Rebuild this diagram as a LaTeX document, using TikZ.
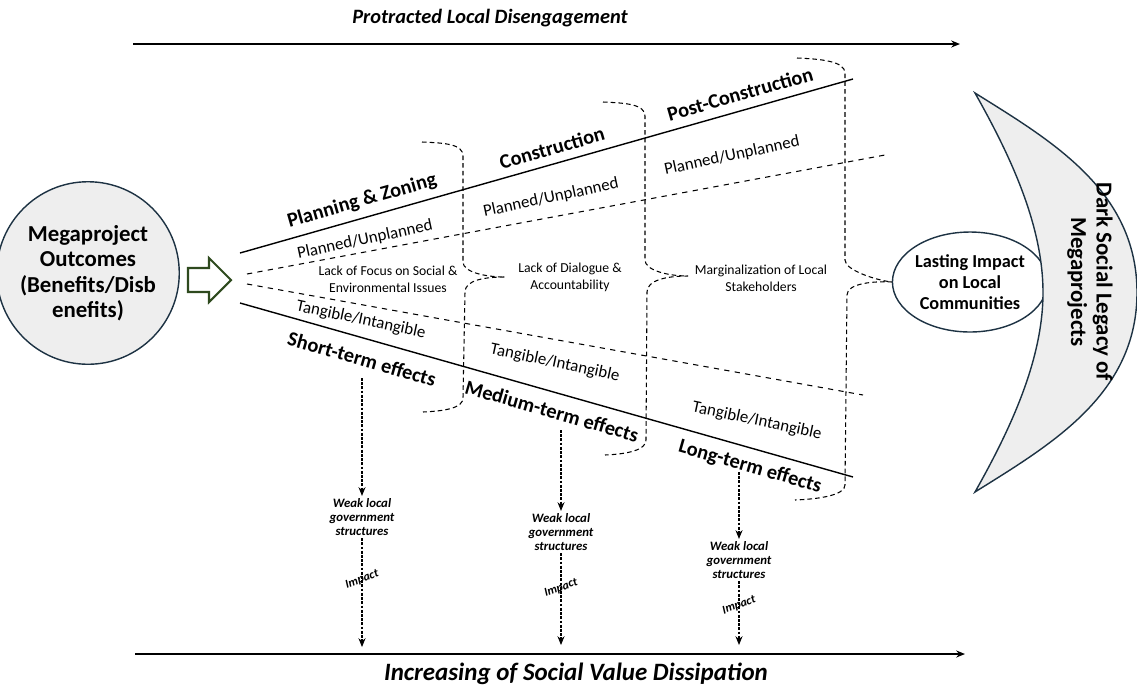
\documentclass[tikz,border=0pt]{standalone}
\usepackage{fontspec}
\setmainfont{Carlito}
\usetikzlibrary{arrows.meta,shapes.geometric}
\definecolor{outline}{HTML}{1D3243}
\definecolor{arrowgreen}{HTML}{2E4A1E}
\definecolor{shade}{HTML}{EEEEEE}

\begin{document}
\begin{tikzpicture}[x=0.02cm, y=-0.02cm,
    phase/.style={font=\bfseries\fontsize{11.6}{14}\selectfont, inner sep=0pt},
    kind/.style={font=\fontsize{9.6}{12}\selectfont, inner sep=0pt},
    issue/.style={font=\fontsize{7.8}{9.6}\selectfont, align=center, inner sep=0pt},
    weak/.style={font=\bfseries\itshape\fontsize{7.3}{8.2}\selectfont, align=center, inner sep=1pt},
    impact/.style={font=\bfseries\itshape\fontsize{6.8}{7}\selectfont, rotate=20, inner sep=0pt},
    dotarrow/.style={-{Stealth[length=5pt,width=4pt]}, dash pattern=on 1.6pt off 0.8pt, line width=0.6pt},
    brace/.style={dash pattern=on 2.6pt off 1.8pt, line width=0.6pt},
    timeline/.style={-{Stealth[length=5pt,width=4pt]}, line width=1pt},
  ]
  \useasboundingbox (0,0) rectangle (1137,691);

  % time lines
  \coordinate (topL) at (133,44);
  \coordinate (topR) at (960,44);
  \coordinate (botL) at (135,654);
  \coordinate (botR) at (965,654);
  \draw[timeline] (topL) -- (topR);
  \draw[timeline] (botL) -- (botR);
  \node[font=\bfseries\itshape\fontsize{11.6}{13}\selectfont] (disengage) at (490,18) {Protracted Local Disengagement};
  \node[font=\bfseries\itshape\fontsize{14.2}{16}\selectfont] (dissipate) at (576,674) {Increasing of Social Value Dissipation};

  % outcomes and hollow arrow
  \node[circle, draw=outline, fill=shade, line width=0.8pt, minimum size=3.4cm, align=center,
        font=\bfseries\fontsize{13}{14.5}\selectfont] (outcomes) at (88,273)
        {Megaproject\\Outcomes\\(Benefits/Disb\\enefits)};
  \draw[arrowgreen, line width=1.2pt, fill=white] (188,268) -- (209,268) -- (209,258) -- (231,280)
        -- (209,302) -- (209,292) -- (188,292) -- cycle;

  % fan
  \draw[line width=0.8pt] (240,253) -- (853,79);
  \draw[dashed, line width=0.6pt] (247,274) -- (885,155);
  \draw[dashed, line width=0.6pt] (247,284) -- (863,395);
  \draw[line width=0.8pt] (240,303) -- (853,477);

  \node[phase, rotate=16] (planning) at (362,201) {Planning \& Zoning};
  \node[phase, rotate=16] (construction) at (552,148) {Construction};
  \node[phase, rotate=16] (postcons) at (740,94) {Post-Construction};

  \node[kind, rotate=12] (pu1) at (365,240) {Planned/Unplanned};
  \node[kind, rotate=12] (pu2) at (551,198) {Planned/Unplanned};
  \node[kind, rotate=12] (pu3) at (732,156) {Planned/Unplanned};

  \node[issue] (focus) at (388,279) {Lack of Focus on Social \&\\Environmental Issues};
  \node[issue] (dialogue) at (570,277) {Lack of Dialogue \&\\Accountability};
  \node[issue] (margin) at (761,278) {Marginalization of Local\\Stakeholders};

  \node[kind, rotate=-12] (ti1) at (361,320) {Tangible/Intangible};
  \node[kind, rotate=-12] (ti2) at (555,363) {Tangible/Intangible};
  \node[kind, rotate=-12] (ti3) at (757,421) {Tangible/Intangible};

  \node[phase, rotate=-16] (short) at (362,359) {Short-term effects};
  \node[phase, rotate=-16] (medium) at (552,411) {Medium-term effects};
  \node[phase, rotate=-16] (long) at (750,467) {Long-term effects};

  % legacy
  \node[ellipse, draw=outline, line width=0.8pt, minimum width=2.8cm, minimum height=2cm, inner sep=0pt,
        align=center, font=\bfseries\fontsize{10.4}{12}\selectfont] (lasting) at (970,282)
        {Lasting Impact\\on Local\\Communities};
  \draw[draw=outline, fill=shade, line width=0.8pt] (975,93) .. controls (1050,140) and (1137,190) .. (1137,292.5)
        .. controls (1137,395) and (1050,445) .. (975,492)
        .. controls (1010,430) and (1043,360) .. (1043,292.5)
        .. controls (1043,225) and (1010,155) .. cycle;
  \node[rotate=-90, align=center, font=\bfseries\fontsize{13}{14.5}\selectfont] (legacy) at (1090,282)
        {Dark Social Legacy of\\Megaprojects};

  % brackets
  \draw[brace] (422,142) .. controls (445,143) and (463,144) .. (463,156) -- (463,262)
        .. controls (463,272) and (485,277) .. (505,277) .. controls (485,277) and (465,280) .. (465,292)
        -- (463,398) .. controls (463,408) and (445,411) .. (423,412);
  \draw[brace] (603,102) .. controls (625,103) and (645,104) .. (645,116) -- (645,260)
        .. controls (645,270) and (667,276) .. (688,276) .. controls (667,276) and (647,280) .. (647,292)
        -- (646,440) .. controls (646,450) and (628,454) .. (605,455);
  \draw[brace] (797,58) .. controls (820,59) and (845,61) .. (845,73) -- (845,260)
        .. controls (845,270) and (875,280) .. (lasting.west) .. controls (875,281) and (847,283) .. (847,295)
        -- (845,485) .. controls (845,495) and (820,499) .. (795,500);

  % weak structures
  \node[weak] (weak1) at (362,517) {Weak local\\government\\structures};
  \node[weak] (weak2) at (561,532) {Weak local\\government\\structures};
  \node[weak] (weak3) at (739,560) {Weak local\\government\\structures};
  \coordinate (s1) at (362,378);
  \coordinate (s2) at (561,430);
  \coordinate (s3) at (739,472);
  \coordinate (e1) at (362,647);
  \coordinate (e2) at (561,645);
  \coordinate (e3) at (739,645);
  \draw[dotarrow] (s1) -- (weak1);
  \draw[dotarrow] (s2) -- (weak2);
  \draw[dotarrow] (s3) -- (weak3);
  \draw[dotarrow] (weak1) -- node[impact, pos=0.38] (imp1) {Impact} (e1);
  \draw[dotarrow] (weak2) -- node[impact, pos=0.38] (imp2) {Impact} (e2);
  \draw[dotarrow] (weak3) -- node[impact, pos=0.38] (imp3) {Impact} (e3);
\end{tikzpicture}
\end{document}
